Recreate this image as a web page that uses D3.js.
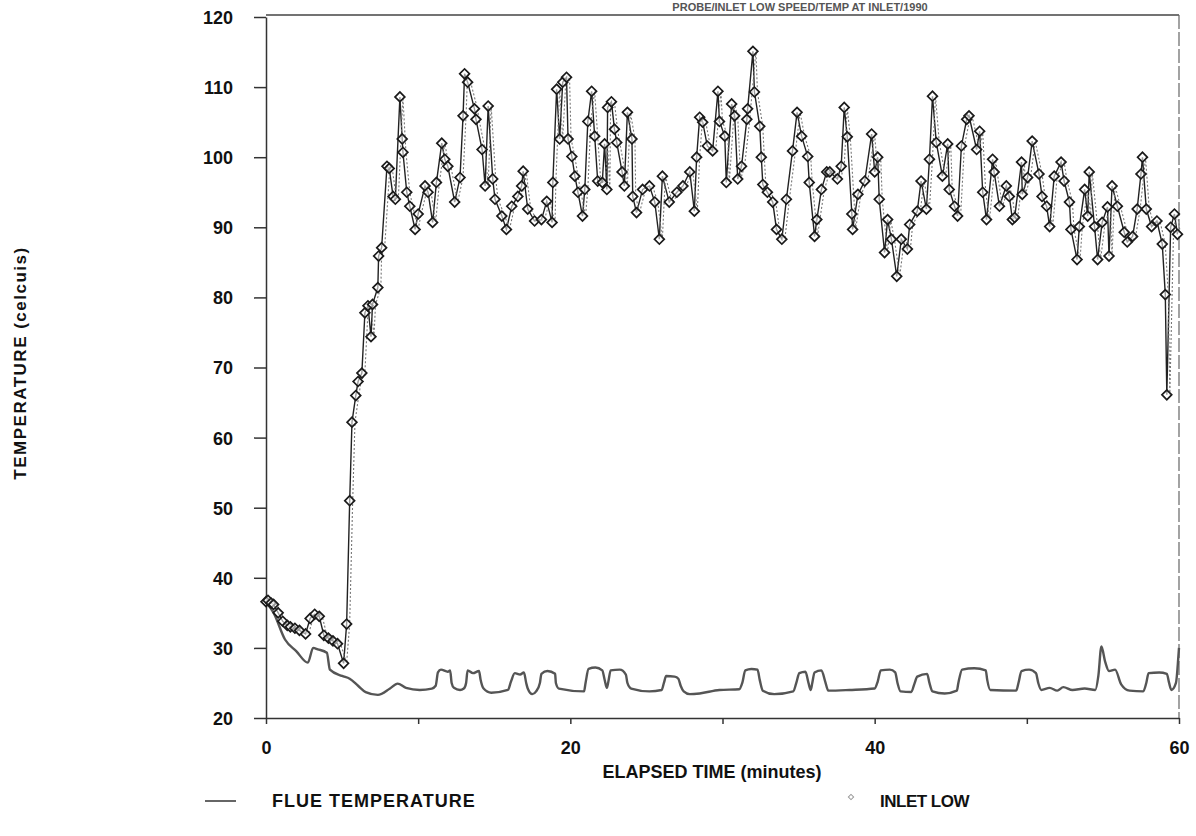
<!DOCTYPE html>
<html lang='en'>
<head>
  <meta charset='UTF-8'>
  <title>Elapsed time vs temperature</title>
  <style>
    body { margin: 0; background: #fff; }
    text { font-family: 'Liberation Sans', Arial, sans-serif; font-weight: bold; fill: #111; }
    .axis path, .axis line { stroke: #333; stroke-width: 1.5px; }
  </style>
</head>
<body>
<div id='chart'></div>
<script src='https://d3js.org/d3.v7.min.js'></script>
<script>
  // 轴刻度
  var yTicks = [20, 30, 40, 50, 60, 70, 80, 90, 100, 110, 120]
  var xTicks = [0, 10, 20, 30, 40, 50, 60]
  var xLabels = [0, 20, 40, 60]

  // flue temperature (minutes / celsius)
  var flueTime = [0, 0.5, 1.25, 2.0, 2.75, 3.1, 3.4, 4.0, 4.2, 5.0, 5.5, 6.05, 6.55, 7.35, 8.15, 8.65, 9.2, 10.1, 10.9,
    11.15, 11.3, 11.5, 11.95, 12.1, 12.2, 12.35, 12.75, 13.0,
    13.15, 13.25, 13.6, 14.0, 14.1, 14.3, 14.8, 15.9,
    16.1, 16.35, 16.7, 16.95, 17.1, 17.2, 17.5, 17.75,
    18.0, 18.1, 18.5, 19.0, 19.05, 19.25, 20.9,
    21.0, 21.2, 21.65, 22.1, 22.25, 22.4,
    22.5, 22.65, 23.25, 23.65, 23.75, 24.0, 25.2, 26.0,
    26.15, 26.3, 26.85, 27.1, 27.25, 27.45, 27.85, 28.5, 29.8, 31.1,
    31.3, 31.5, 31.9, 32.3, 32.45, 32.65, 33.4, 34.65,
    34.85, 35.05, 35.45, 35.65, 35.8,
    35.9, 36.05, 36.5, 36.75, 36.95, 38.35, 40.0,
    40.2, 40.4, 41.0, 41.35, 41.5, 41.7, 42.4,
    42.6, 42.8, 43.45, 43.6, 43.8, 44.6, 45.4,
    45.5, 45.75, 46.55, 47.3, 47.4, 47.6, 49.3,
    49.45, 49.65, 50.15, 50.6, 50.75, 50.95, 51.5, 52.0, 52.4, 53.0, 53.8, 54.5,
    54.7, 54.9, 55.15, 55.4, 55.8, 56.2, 56.75, 57.65,
    57.85, 58.0, 58.7, 59.2, 59.35, 59.5, 59.8, 59.95, 60]
  var flueTemp = [36.5, 35.0, 31.2, 29.5, 27.9, 30.0, 29.8, 29.3, 26.9, 26.0, 25.6, 24.6, 23.7, 23.3, 24.2, 24.9, 24.3, 24.0, 24.2,
    24.6, 26.5, 26.9, 26.6, 26.8, 25.0, 24.3, 24.0, 24.2,
    25.0, 26.8, 26.4, 26.7, 25.5, 24.2, 23.6, 24.0,
    25.2, 26.4, 26.2, 26.5, 25.0, 24.2, 23.4, 23.8,
    25.0, 26.3, 26.7, 26.3, 25.0, 24.2, 23.8,
    25.0, 27.0, 27.2, 26.8, 25.5, 24.3,
    25.2, 26.8, 26.9, 26.2, 25.0, 24.2, 23.8, 24.0,
    25.0, 26.0, 25.9, 25.6, 24.6, 23.8, 23.4, 23.5, 24.0, 24.1,
    25.0, 26.8, 27.0, 26.9, 25.4, 23.9, 23.4, 23.8,
    25.0, 26.4, 26.6, 25.0, 24.0,
    25.0, 26.5, 26.8, 25.2, 23.9, 24.0, 24.2,
    25.2, 26.8, 26.9, 26.5, 25.0, 23.8, 23.7,
    24.8, 25.9, 26.3, 25.0, 23.8, 23.5, 23.9,
    25.0, 26.9, 27.1, 26.8, 25.4, 24.0, 23.9,
    25.0, 26.7, 26.9, 26.4, 25.0, 24.0, 24.3, 23.9, 24.4, 24.0, 24.2, 24.0,
    26.0, 30.2, 28.0, 26.7, 26.9, 24.8, 23.9, 23.8,
    25.0, 26.4, 26.5, 26.3, 25.0, 24.0, 25.0, 28.5, 30.0]

  // inlet low (minutes / celsius)
  var inletTime = [0, 0.13, 0.33, 0.5, 0.8, 1.1, 1.4, 1.6, 1.9, 2.2, 2.6, 2.9, 3.2, 3.5, 3.8, 4.1, 4.4, 4.7, 5.1, 5.3,
    5.5, 5.65, 5.9, 6.05, 6.3, 6.5, 6.7, 6.9, 7.0, 7.35, 7.4, 7.6, 7.95, 8.1, 8.35, 8.5, 8.8, 8.95, 9.0,
    9.25, 9.45, 9.8, 10.0, 10.45, 10.65, 10.95, 11.2, 11.55, 11.75, 11.95, 12.4, 12.75, 12.95, 13.05, 13.25,
    13.7, 13.8, 14.2, 14.4, 14.6, 14.9, 15.05, 15.5, 15.8, 16.15, 16.55, 16.8, 16.9, 17.2, 17.65, 18.1,
    18.45, 18.8, 18.85, 19.1, 19.3, 19.5, 19.75, 19.85, 20.1, 20.3, 20.5, 20.8, 20.95, 21.15, 21.4, 21.6,
    21.8, 22.1, 22.25, 22.4, 22.45, 22.7, 22.9, 23.05, 23.4, 23.55, 23.75, 24.05, 24.1, 24.35, 24.75,
    25.2, 25.55, 25.85, 26.05, 26.5, 27.0, 27.4, 27.85, 28.15, 28.3, 28.5, 28.7, 29.0, 29.35, 29.7,
    29.8, 30.15, 30.25, 30.6, 30.8, 31.0, 31.25, 31.6, 31.65, 32.0, 32.1, 32.45, 32.55, 32.65, 32.95,
    33.3, 33.55, 33.9, 34.2, 34.6, 34.9, 35.2, 35.6, 35.7, 36.05, 36.2, 36.5, 36.85, 37.05, 37.55,
    37.8, 38.0, 38.2, 38.5, 38.55, 38.9, 39.35, 39.8, 40.0, 40.2, 40.3, 40.65, 40.85, 41.1, 41.45,
    41.75, 42.15, 42.3, 42.8, 43.05, 43.4, 43.6, 43.8, 44.05, 44.45, 44.8, 44.9, 45.25, 45.45, 45.7,
    46.05, 46.2, 46.7, 46.9, 47.1, 47.35, 47.75, 47.85, 48.2, 48.65, 48.85, 49.05, 49.2, 49.65, 49.7,
    50.05, 50.35, 50.8, 51.0, 51.3, 51.5, 51.8, 52.25, 52.45, 52.8, 52.9, 53.3, 53.45, 53.8, 54.0,
    54.1, 54.45, 54.65, 54.95, 55.3, 55.4, 55.6, 55.95, 56.4, 56.6, 56.95, 57.25, 57.5, 57.6, 57.85,
    58.2, 58.55, 58.9, 59.1, 59.2, 59.45, 59.7, 59.9]
  var inletTemp = [36.6, 36.8, 36.4, 36.2, 35.0, 33.8, 33.2, 33.0, 32.8, 32.5, 32.0, 34.2, 34.8, 34.5, 31.8, 31.4, 31.0, 30.6, 27.8, 33.4,
    51.0, 62.2, 66.0, 68.0, 69.2, 77.8, 78.8, 74.4, 79.0, 81.4, 85.9, 87.1, 98.7, 98.4, 94.4, 94.0, 108.6, 102.6, 100.7,
    95.0, 93.0, 89.7, 91.9, 95.9, 95.0, 90.7, 96.4, 102.0, 99.7, 98.7, 93.6, 97.1, 105.9, 111.9, 110.7,
    106.9, 105.4, 101.1, 95.9, 107.3, 96.9, 94.0, 91.6, 89.7, 93.0, 94.4, 95.9, 98.0, 92.6, 90.9, 91.1,
    93.7, 90.7, 96.4, 109.7, 102.6, 110.7, 111.4, 102.6, 100.1, 97.3, 95.0, 91.6, 95.4, 105.1, 109.4, 103.0,
    96.6, 96.4, 101.9, 95.4, 107.1, 107.9, 104.0, 102.1, 97.9, 95.9, 106.4, 102.6, 94.4, 92.1, 95.4,
    95.9, 93.6, 88.3, 97.3, 93.6, 95.0, 95.9, 97.9, 92.3, 100.0, 105.7, 105.0, 101.6, 100.9, 109.4,
    105.1, 103.0, 96.4, 107.6, 105.9, 96.9, 98.7, 105.4, 106.9, 115.1, 109.3, 104.4, 100.0, 96.1, 95.0,
    93.6, 89.7, 88.3, 94.0, 100.9, 106.4, 103.0, 100.1, 96.4, 88.7, 91.1, 95.4, 97.9, 97.9, 96.9,
    98.7, 107.1, 102.9, 91.9, 89.7, 94.7, 96.6, 103.3, 97.9, 100.0, 94.0, 86.4, 91.1, 88.3, 83.0,
    88.3, 86.9, 90.4, 92.3, 96.6, 92.6, 99.7, 108.7, 102.1, 97.3, 101.9, 95.4, 93.0, 91.6, 101.6,
    105.4, 105.9, 101.1, 103.7, 95.0, 91.1, 99.7, 97.9, 93.0, 95.9, 94.4, 91.1, 91.4, 99.3, 94.7,
    97.1, 102.3, 97.6, 94.4, 93.0, 90.1, 97.3, 99.3, 96.6, 93.6, 89.7, 85.4, 90.1, 95.4, 91.6,
    97.9, 90.1, 85.4, 90.7, 92.9, 85.9, 95.9, 93.0, 89.3, 87.9, 88.7, 92.6, 97.6, 100.0, 92.6,
    90.1, 90.9, 87.6, 80.4, 66.1, 90.0, 91.9, 89.0]

  var width = 1196, height = 836
  var svg = d3.select('#chart').append('svg').attr('width', width).attr('height', height)

  var x = d3.scaleLinear().domain([0, 60]).range([266, 1179])
  var y = d3.scaleLinear().domain([20, 120]).range([718, 17])

  // 标题
  svg.append('text').attr('x', 800).attr('y', 11).attr('text-anchor', 'middle')
    .style('font-size', '11px').style('fill', '#555')
    .text('PROBE/INLET LOW SPEED/TEMP AT INLET/1990')

  // 边框
  svg.append('line').attr('x1', x(0)).attr('x2', x(60)).attr('y1', 15).attr('y2', 15)
    .style('stroke', '#444').style('stroke-width', 1.5)
  svg.append('line').attr('x1', x(60)).attr('x2', x(60)).attr('y1', 15).attr('y2', y(20))
    .style('stroke', '#666').style('stroke-width', 1.2).style('stroke-dasharray', '14,3')

  // y 轴
  var yAxis = svg.append('g').attr('class', 'axis').attr('transform', 'translate(' + x(0) + ',0)')
    .call(d3.axisLeft(y).tickValues(yTicks).tickSize(12).tickPadding(21).tickSizeOuter(0))
  yAxis.selectAll('text').style('font-size', '18px').style('font-family', "'Liberation Sans', Arial, sans-serif").attr('dy', '0.36em')

  // x 轴
  var xAxis = svg.append('g').attr('class', 'axis').attr('transform', 'translate(0,' + y(20) + ')')
    .call(d3.axisBottom(x).tickValues(xTicks).tickSize(6).tickPadding(17).tickSizeOuter(0)
      .tickFormat(function (d) { return xLabels.indexOf(d) >= 0 ? d : '' }))
  xAxis.selectAll('text').style('font-size', '18px').style('font-family', "'Liberation Sans', Arial, sans-serif")

  // flue temperature
  var flue = flueTime.map(function (t, i) { return [t, flueTemp[i]] })
  svg.append('path').datum(flue)
    .attr('d', d3.line().x(function (d) { return x(d[0]) }).y(function (d) { return y(d[1]) }).curve(d3.curveMonotoneX))
    .style('fill', 'none').style('stroke', '#555').style('stroke-width', 2.4)

  // inlet low
  var inlet = inletTime.map(function (t, i) { return [t, inletTemp[i]] })
  var inletLine = d3.line().x(function (d) { return x(d[0]) }).y(function (d) { return y(d[1]) })
  svg.append('path').datum(inlet).attr('d', inletLine)
    .style('fill', 'none').style('stroke', '#222').style('stroke-width', 1.4)
  svg.append('path').datum(inlet).attr('d', inletLine).attr('transform', 'translate(3,0)')
    .style('fill', 'none').style('stroke', '#777').style('stroke-width', 1.1).style('stroke-dasharray', '2,2')

  var diamond = d3.symbol().type(d3.symbolSquare).size(48)
  svg.append('g').selectAll('path').data(inlet).enter().append('path')
    .attr('d', diamond)
    .attr('transform', function (d) { return 'translate(' + x(d[0]) + ',' + y(d[1]) + ') rotate(45)' })
    .style('fill', 'rgba(255,255,255,0.55)').style('stroke', '#1a1a1a').style('stroke-width', 1.7)

  // 轴标题
  svg.append('text').attr('transform', 'translate(26,363) rotate(-90)').attr('text-anchor', 'middle')
    .style('font-size', '17px').style('letter-spacing', '1.5px').text('TEMPERATURE (celcuis)')
  svg.append('text').attr('x', 712).attr('y', 778).attr('text-anchor', 'middle')
    .style('font-size', '18px').text('ELAPSED TIME (minutes)')

  // 图例
  svg.append('line').attr('x1', 205).attr('x2', 236).attr('y1', 801).attr('y2', 801)
    .style('stroke', '#333').style('stroke-width', 1.5)
  svg.append('text').attr('x', 272).attr('y', 807).style('font-size', '18px').style('letter-spacing', '1px')
    .text('FLUE TEMPERATURE')
  svg.append('path').attr('d', d3.symbol().type(d3.symbolSquare).size(14))
    .attr('transform', 'translate(851,797) rotate(45)')
    .style('fill', '#fff').style('stroke', '#999').style('stroke-width', 1)
  svg.append('text').attr('x', 880).attr('y', 807).style('font-size', '17px').style('letter-spacing', '-0.5px')
    .text('INLET LOW')
</script>
</body>
</html>
